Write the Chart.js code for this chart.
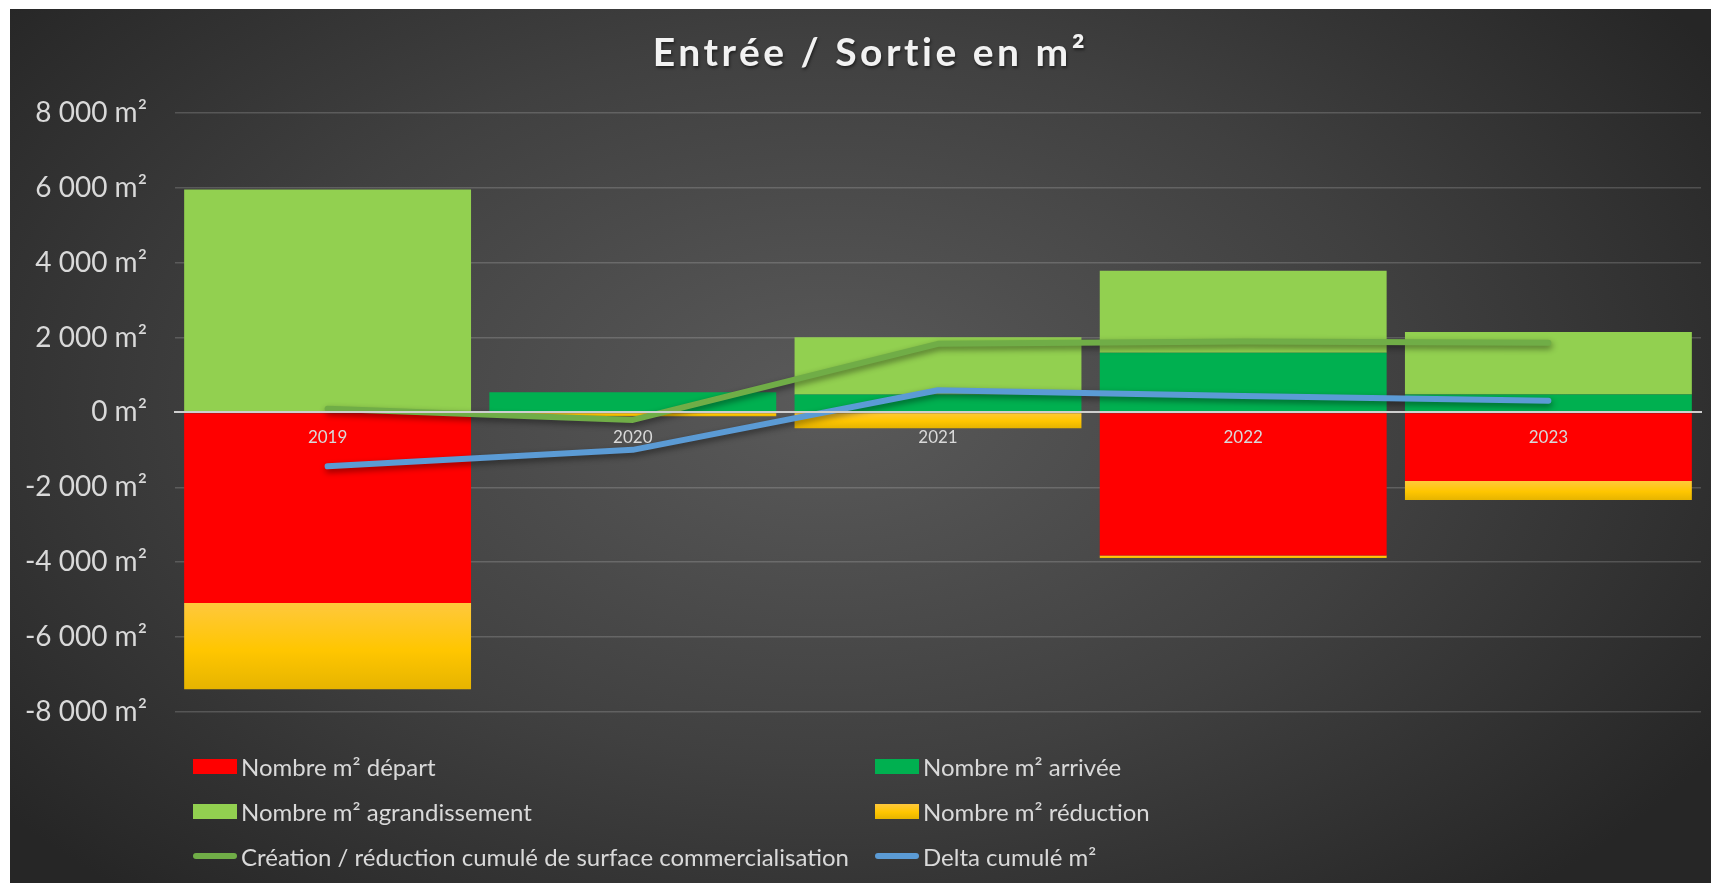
<!DOCTYPE html>
<html lang="fr">
<head>
<meta charset="utf-8">
<title>Entrée / Sortie en m²</title>
<script src="https://cdn.jsdelivr.net/npm/chart.js@4"></script>
<style>
  html, body { margin: 0; padding: 0; background: #fff; }
  #wrap {
    position: absolute; left: 10px; top: 9px; width: 1701px; height: 874px;
    background: radial-gradient(ellipse 62% 75% at 48% 45%, #5a5a5a 0%, #404040 55%, #262626 100%);
    font-family: Lato, "Open Sans", sans-serif;
  }
  #chart { position: absolute; left: 0; top: 0; }
  .leg { position: absolute; display: flex; align-items: center; color: #d9d9d9; font-size: 24px; white-space: nowrap; }
  .leg .sw { width: 44px; margin-right: 4px; }
</style>
</head>
<body>
<div id="wrap">
  <canvas id="chart" width="1701" height="874"></canvas>
  <div id="legend"></div>
</div>
<script>
const years = ['2019', '2020', '2021', '2022', '2023'];
const departs = [-5090, 0, 0, -3820, -1830];
const arrivees = [0, 540, 480, 1590, 480];
const agrandissements = [5950, 0, 1530, 2190, 1670];
const reductions = [-2300, -100, -420, -70, -510];
const creationCumul = [100, -200, 1830, 1890, 1860];
const deltaCumul = [-1440, -1000, 590, 440, 310];

Chart.defaults.font.family = 'Lato, "Open Sans", sans-serif';

function fmtM2(v) {
    const s = String(Math.abs(v)).replace(/\B(?=(\d{3})+(?!\d))/g, ' ');
    return (v < 0 ? '-' : '') + s + ' m²';
}

function yellowFill(ctx) {
    const chart = ctx.chart;
    if (!chart.chartArea || ctx.type !== 'data') return '#ffc000';
    const i = ctx.dataIndex;
    const y = chart.scales.y;
    const y0 = y.getPixelForValue(departs[i]);
    const y1 = y.getPixelForValue(departs[i] + reductions[i]);
    if (Math.abs(y1 - y0) < 1) return '#ffc000';
    const g = chart.ctx.createLinearGradient(0, y0, 0, y1);
    g.addColorStop(0, '#ffc83c');
    g.addColorStop(0.55, '#ffc600');
    g.addColorStop(1, '#e6b400');
    return g;
}

// soft shadow under the two lines, like the Excel original
const lineShadow = {
    id: 'lineShadow',
    beforeDatasetDraw(chart, args) {
        if (args.meta.type !== 'line') return;
        const c = chart.ctx;
        c.save();
        c.shadowColor = 'rgba(0,0,0,0.45)';
        c.shadowBlur = 6;
        c.shadowOffsetX = 1;
        c.shadowOffsetY = 3;
    },
    afterDatasetDraw(chart, args) {
        if (args.meta.type !== 'line') return;
        chart.ctx.restore();
    }
};

const chart = new Chart(document.getElementById('chart'), {
    data: {
        labels: years,
        datasets: [
            { type: 'bar', label: 'Nombre m² départ', data: departs, backgroundColor: '#ff0000', stack: 'bars', order: 1 },
            { type: 'bar', label: 'Nombre m² arrivée', data: arrivees, backgroundColor: '#00b050', stack: 'bars', order: 1 },
            { type: 'bar', label: 'Nombre m² agrandissement', data: agrandissements, backgroundColor: '#92d050', stack: 'bars', order: 1 },
            { type: 'bar', label: 'Nombre m² réduction', data: reductions, backgroundColor: yellowFill, stack: 'bars', order: 1 },
            { type: 'line', label: 'Création / réduction cumulé de surface commercialisation', data: creationCumul,
              stack: 'l1', borderColor: '#70ad47', borderWidth: 6, pointRadius: 0, tension: 0,
              borderCapStyle: 'round', borderJoinStyle: 'round', order: 0 },
            { type: 'line', label: 'Delta cumulé m²', data: deltaCumul,
              stack: 'l2', borderColor: '#5b9bd5', borderWidth: 6, pointRadius: 0, tension: 0,
              borderCapStyle: 'round', borderJoinStyle: 'round', order: 0 }
        ]
    },
    options: {
        responsive: false,
        animation: false,
        layout: { padding: { left: 0, right: 10, top: 0, bottom: 171 } },
        datasets: { bar: { barPercentage: 0.94, categoryPercentage: 1 } },
        plugins: {
            legend: { display: false },
            tooltip: { enabled: false },
            title: {
                display: true,
                text: 'Entrée / Sortie en m²',
                color: '#f2f2f2',
                font: { size: 39, weight: 'bold' },
                padding: { top: 21, bottom: 36 }
            }
        },
        scales: {
            x: {
                stacked: true,
                position: { y: 0 },
                grid: { display: false, drawTicks: false },
                border: { display: true, color: '#cfcfcf', width: 2, z: 1 },
                ticks: { color: '#d9d9d9', font: { size: 17 }, padding: 15, z: 1 }
            },
            y: {
                stacked: true,
                min: -8000,
                max: 8000,
                afterFit: s => { s.width = 165; },
                ticks: { stepSize: 2000, color: '#d9d9d9', font: { size: 28 }, padding: 28, callback: v => fmtM2(v) },
                grid: { color: ctx => ctx.tick && ctx.tick.value === 0 ? 'rgba(0,0,0,0)' : 'rgba(255,255,255,0.17)', lineWidth: 1.5, drawTicks: false },
                border: { display: false }
            }
        }
    },
    plugins: [lineShadow]
});

// the title in the original is letter-spaced and sits a little right of centre
const titleBox = chart.titleBlock;
const drawTitle = titleBox.draw.bind(titleBox);
titleBox.draw = function () {
    const c = this.ctx;
    c.save();
    c.translate(15, 0);
    c.letterSpacing = '3.5px';
    c.shadowColor = 'rgba(0,0,0,0.5)';
    c.shadowBlur = 3;
    c.shadowOffsetX = 1;
    c.shadowOffsetY = 2;
    drawTitle();
    c.restore();
};
chart.draw();

// two-column legend under the chart, built from the datasets
const legendEl = document.getElementById('legend');
const rowsY = [757, 802, 847];
const colsX = [183, 865];
chart.data.datasets.forEach((ds, i) => {
    const item = document.createElement('div');
    item.className = 'leg';
    item.style.left = colsX[i % 2] + 'px';
    item.style.top = (rowsY[Math.floor(i / 2)] - 15) + 'px';
    item.style.height = '30px';
    const sw = document.createElement('span');
    sw.className = 'sw';
    if (ds.type === 'line') {
        sw.style.height = '6px';
        sw.style.borderRadius = '3px';
        sw.style.background = ds.borderColor;
    } else {
        sw.style.height = '15px';
        sw.style.background = typeof ds.backgroundColor === 'string' ? ds.backgroundColor : 'linear-gradient(#ffc83c, #ffc600 55%, #e6b400)';
    }
    const txt = document.createElement('span');
    txt.textContent = ds.label;
    item.appendChild(sw);
    item.appendChild(txt);
    legendEl.appendChild(item);
});
</script>
</body>
</html>
